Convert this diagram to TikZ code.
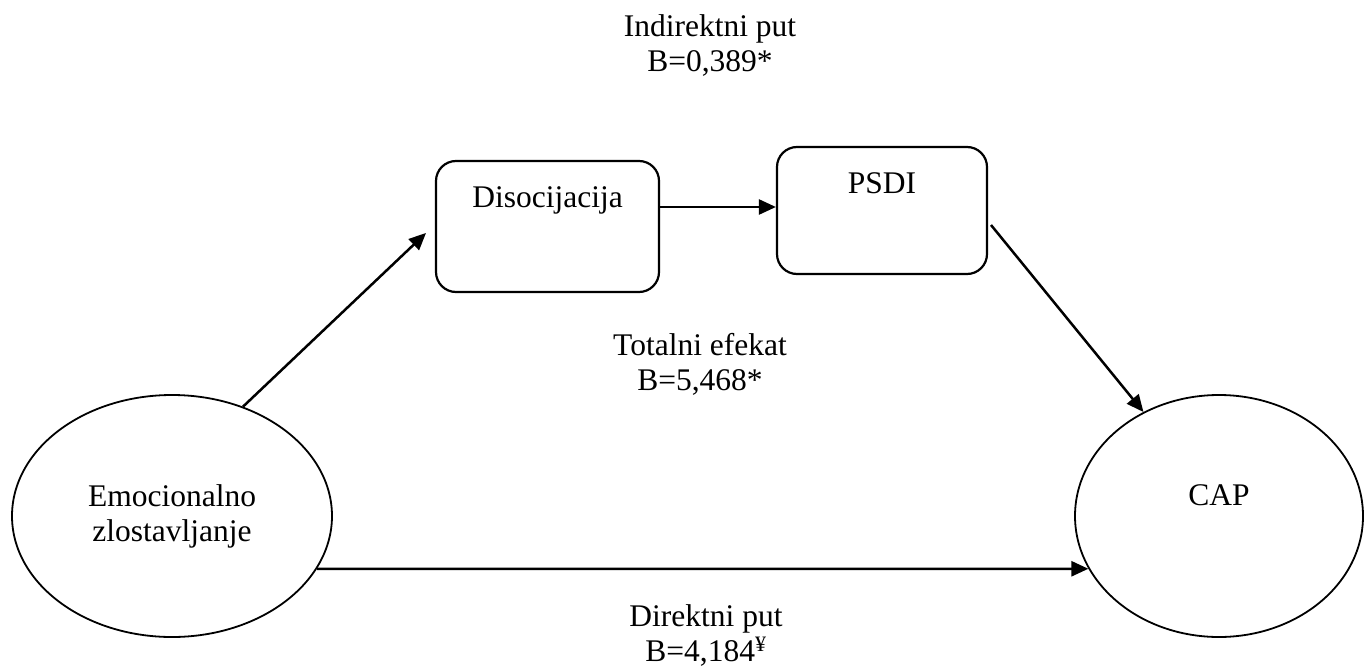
\documentclass[tikz,border=0pt]{standalone}
\usepackage{fontspec}
\setmainfont{Liberation Serif}
\usetikzlibrary{shapes.geometric,arrows.meta}
\begin{document}
\begin{tikzpicture}[x=1pt,y=-1pt,
  every node/.style={font=\fontsize{31.5}{35}\selectfont},
  oval/.style={draw,line width=1.8pt,ellipse,inner sep=0pt},
  rbox/.style={draw,line width=2.2pt,rectangle,rounded corners=20pt,inner sep=0pt,text height=22pt},
  arr/.style={line width=2.5pt,-{Triangle[length=17pt,width=15pt]}},
  lbl/.style={align=center,anchor=base,inner sep=0pt}]
\useasboundingbox (0,0) rectangle (1364,666);
\node[oval,minimum width=320pt,minimum height=242pt,align=center] (emo) at (172,516) {Emocionalno\\zlostavljanje};
\node[oval,minimum width=288pt,minimum height=242pt,text height=22pt,text depth=44pt] (cap) at (1219,516) {CAP};
\node[rbox,minimum width=223pt,minimum height=131pt,text depth=61pt] (diso) at (547.5,226.5) {Disocijacija};
\node[rbox,minimum width=210pt,minimum height=127pt,text depth=57pt] (psdi) at (882,210.5) {PSDI};
\node[lbl] (ind) at (710,72) {Indirektni put\\B=0,389*};
\node[lbl] (tot) at (700,390) {Totalni efekat\\B=5,468*};
\node[lbl] (dir) at (706,661) {Direktni put\\B=4,184\textsuperscript{¥}};
\coordinate (t1) at (426,233);
\coordinate (h) at (0,207);
\coordinate (s2) at (991,225);
\draw[arr] (emo.57) -- (t1);
\draw[arr] (diso.east |- h) -- (psdi.west |- h);
\draw[arr] (s2) -- (cap.126);
\draw[arr] (emo.-20.23) -- (cap.202.26);
\end{tikzpicture}
\end{document}
